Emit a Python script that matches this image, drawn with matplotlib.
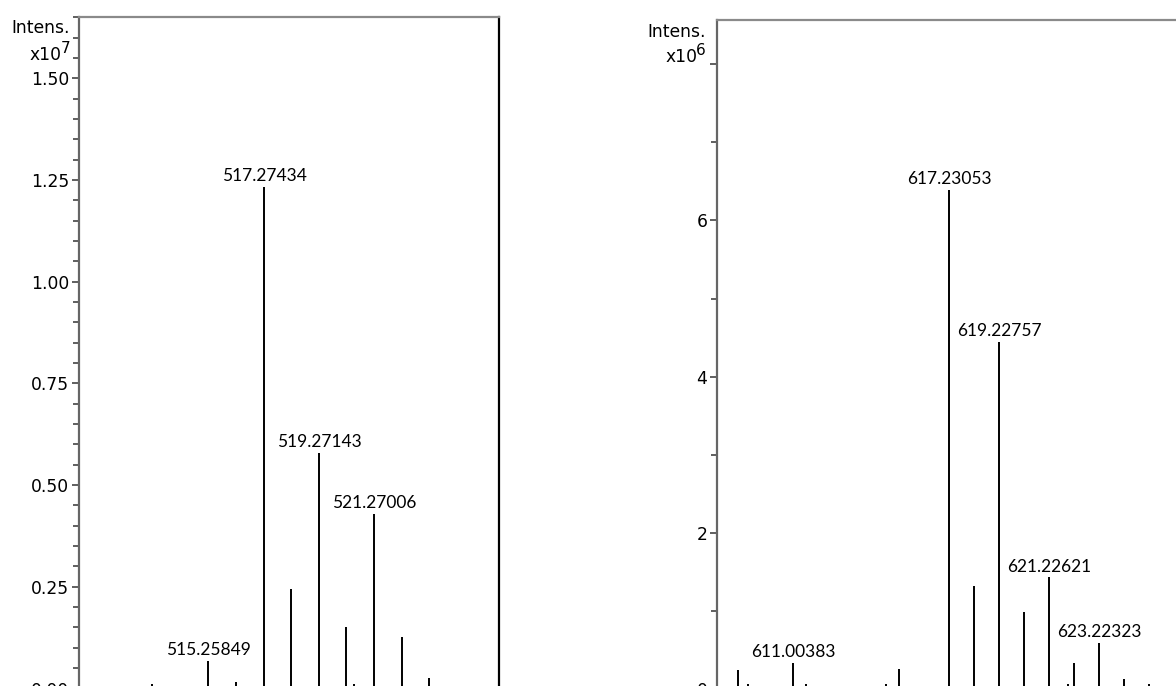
import matplotlib.pyplot as plt
from matplotlib.ticker import MultipleLocator, FixedLocator, FixedFormatter

# spectre 1 : intensites en x1e7
mz_1 = [511.32, 513.21, 515.25849, 516.26, 517.27434, 518.27, 519.27143,
        520.27, 520.55, 521.27006, 522.27, 523.27, 524.57]
int_1 = [0.005, 0.010, 0.068, 0.016, 1.233, 0.245, 0.579,
         0.151, 0.010, 0.429, 0.127, 0.026, 0.005]
pics_1 = [515.25849, 517.27434, 519.27143, 521.27006]

# spectre 2 : intensites en x1e6
mz_2 = [608.80, 609.20, 611.00383, 611.52, 614.71, 615.23, 617.23053, 618.23,
        619.22757, 620.23, 621.22621, 622.00, 622.22, 623.22323, 624.22, 625.20]
int_2 = [0.24, 0.06, 0.33, 0.07, 0.06, 0.26, 6.39, 1.32,
         4.44, 0.99, 1.43, 0.07, 0.33, 0.59, 0.13, 0.06]
pics_2 = [611.00383, 617.23053, 619.22757, 621.22621, 623.22323]

plt.rcParams['font.family'] = 'DejaVu Sans'

fig = plt.figure(figsize=(11.76, 6.86), dpi=100)
W, H = 1176, 686


def axes_px(x0, y_top, x1, y_zero):
    # position en pixels -> fraction de figure
    return fig.add_axes([x0 / W, (H - y_zero) / H, (x1 - x0) / W, (y_zero - y_top) / H])


def spectre(ax, mz, inten, pics, xlim, ylim, expo, dx_lab, dy_lab):
    ax.vlines(mz, 0, inten, color='black', lw=1.4)
    for m, i in zip(mz, inten):
        if m in pics:
            ax.annotate(f'{m:.5f}', xy=(m, i), xytext=(0, 2), textcoords='offset points',
                        ha='center', va='bottom', fontsize=12.5, family='Lato')
    ax.set_xlim(*xlim)
    ax.set_ylim(*ylim)
    ax.tick_params(axis='x', bottom=False, labelbottom=False)
    ax.tick_params(axis='y', which='major', length=5, width=1.2, color='#444444',
                   labelsize=12.3, pad=2)
    ax.tick_params(axis='y', which='minor', length=4, width=1.2, color='#444444')
    ax.spines['left'].set_color('#666666')
    ax.spines['left'].set_linewidth(1.6)
    ax.spines['top'].set_color('#8a8a8a')
    ax.spines['top'].set_linewidth(1.6)
    ax.spines['right'].set_color('black')
    ax.spines['right'].set_linewidth(1.6)
    # titre de l'axe Y : "Intens." puis x10 avec l'exposant
    ax.annotate('Intens.', xy=(0, 1), xycoords='axes fraction', xytext=(dx_lab, -dy_lab[0]),
                textcoords='offset pixels', ha='right', va='baseline', fontsize=12.3)
    ax.annotate(str(expo), xy=(0, 1), xycoords='axes fraction',
                xytext=(dx_lab, -dy_lab[1] + 7), textcoords='offset pixels',
                ha='right', va='baseline', fontsize=11)
    ax.annotate('x10', xy=(0, 1), xycoords='axes fraction',
                xytext=(dx_lab - 9, -dy_lab[1]), textcoords='offset pixels',
                ha='right', va='baseline', fontsize=12.3)


ax1 = axes_px(79, 17, 499, 688.5)
spectre(ax1, mz_1, int_1, pics_1, (510.557, 525.81), (0, 1.651), 7, -9, (16, 43))
ax1.yaxis.set_major_locator(MultipleLocator(0.25))
ax1.yaxis.set_minor_locator(MultipleLocator(0.05))
ax1.yaxis.set_major_formatter(lambda v, p: f'{v:.2f}')

ax2 = axes_px(717, 20, 1211, 689)
spectre(ax2, mz_2, int_2, pics_2, (607.965, 627.69), (0, 8.566), 6, -11, (17, 42))
ax2.yaxis.set_major_locator(FixedLocator([0, 2, 4, 6, 8]))
ax2.yaxis.set_major_formatter(FixedFormatter(['0', '2', '4', '6', '']))
ax2.yaxis.set_minor_locator(MultipleLocator(1))

fig.savefig('out.png', dpi=100)
